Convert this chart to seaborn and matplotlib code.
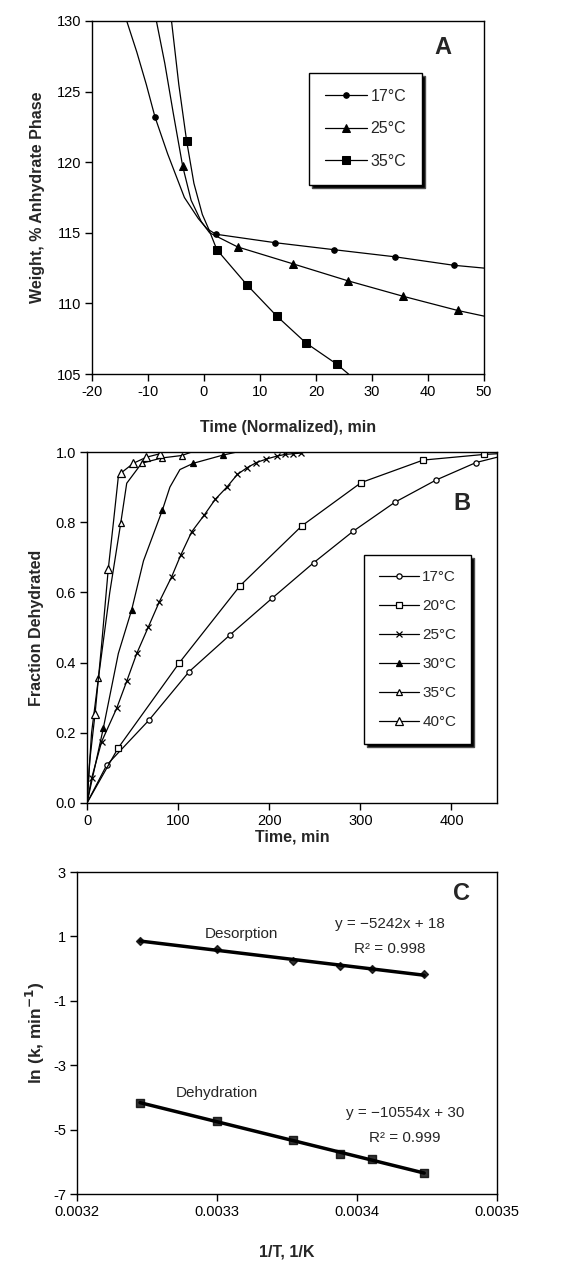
import numpy as np
import pandas as pd
import matplotlib
matplotlib.use("Agg")
import matplotlib.pyplot as plt
import seaborn as sns

sns.set_theme(style="ticks")
plt.rcParams['font.family'] = ['Liberation Sans', 'DejaVu Sans']
plt.rcParams['axes.edgecolor'] = 'black'
plt.rcParams['xtick.color'] = 'black'
plt.rcParams['ytick.color'] = 'black'
plt.rcParams['axes.unicode_minus'] = False

# ---------------- Panel A data ----------------
a_labels = ["17°C", "25°C", "35°C"]
a17_x = [-13.8, -12.0, -10.3, -8.75, -6.5, -3.5, -1.0, 0.5, 2.1, 12.7, 23.3, 34.1, 44.6, 50]
a17_y = [130, 127.8, 125.5, 123.2, 120.6, 117.5, 116.0, 115.3, 114.9, 114.3, 113.8, 113.3, 112.7, 112.5]
a17_mark = [3, 8, 9, 10, 11, 12]
a25_x = [-8.5, -7.0, -5.5, -3.8, -2.3, -0.5, 1.0, 6.0, 15.9, 25.7, 35.6, 45.3, 50]
a25_y = [130, 127.0, 123.5, 119.7, 117.3, 115.8, 115.0, 114.0, 112.8, 111.6, 110.5, 109.5, 109.1]
a25_mark = [3, 7, 8, 9, 10, 11]
a35_x = [-5.8, -4.5, -3.1, -1.8, -0.3, 0.8, 2.3, 7.7, 13.0, 18.2, 23.7, 25.8]
a35_y = [130, 125.5, 121.5, 118.5, 116.3, 115.3, 113.8, 111.3, 109.1, 107.2, 105.7, 105.0]
a35_mark = [2, 6, 7, 8, 9, 10]

# ---------------- Panel B data ----------------
b_labels = ["17°C", "20°C", "25°C", "30°C", "35°C", "40°C"]
b17_x = [0, 21.6, 68, 112, 157, 203, 249, 292, 338, 383, 427, 450]
b17_y = [0.0, 0.108, 0.236, 0.374, 0.479, 0.583, 0.685, 0.774, 0.857, 0.920, 0.970, 0.985]
b17_mark = list(range(1, 11))
b20_x = [0, 34, 101.5, 168, 236, 301, 369, 435.5, 450]
b20_y = [0.0, 0.156, 0.40, 0.619, 0.79, 0.913, 0.977, 0.993, 0.995]
b20_mark = list(range(1, 8))
b25_x = [0, 5, 16.1, 32.6, 43.6, 54.6, 67.4, 79.5, 93, 103, 115, 128.6, 140.7,
         153.5, 165, 175.5, 186, 197, 208, 217, 226, 235, 240]
b25_y = [0, 0.07, 0.175, 0.27, 0.347, 0.426, 0.502, 0.574, 0.645, 0.707, 0.773, 0.82, 0.865,
         0.90, 0.936, 0.955, 0.97, 0.98, 0.988, 0.993, 0.995, 0.997, 1.0]
b25_mark = list(range(1, 22))
b30_x = [0, 17.9, 34.4, 49, 62, 82.8, 91, 102, 116.8, 149, 164.5]
b30_y = [0, 0.213, 0.426, 0.55, 0.69, 0.835, 0.90, 0.95, 0.968, 0.991, 1.0]
b30_mark = [1, 3, 5, 8, 9]
b35_x = [0, 5, 12.5, 25, 37, 43.6, 60, 82, 104, 115]
b35_y = [0, 0.2, 0.355, 0.6, 0.797, 0.911, 0.968, 0.983, 0.99, 1.0]
b35_mark = [2, 4, 6, 7, 8]
b40_x = [0, 3, 8.8, 16, 23.4, 28.9, 34.4, 37.7, 51, 65, 80]
b40_y = [0, 0.12, 0.253, 0.45, 0.668, 0.797, 0.93, 0.941, 0.968, 0.985, 0.995]
b40_mark = [2, 4, 7, 8, 9, 10]

# ---------------- Panel C data ----------------
c_invT = [0.003245, 0.0033, 0.003354, 0.003388, 0.003411, 0.003448]
c_desorption = [0.86, 0.60, 0.24, 0.08, 0.0, -0.18]
c_dehydration = [-4.18, -4.73, -5.32, -5.76, -5.91, -6.36]

W, H = 567, 1263
fig = plt.figure(figsize=(W / 100, H / 100), dpi=100)

def box(l, t, r, b):
    return [l / W, (H - b) / H, (r - l) / W, (b - t) / H]

def ftext(x, y, s, **kw):
    fig.text(x / W, 1 - y / H, s, **kw)

axA = fig.add_axes(box(92, 21, 484, 374))
axB = fig.add_axes(box(87, 452, 497, 803))
axC = fig.add_axes(box(77, 872, 497, 1194))

def style(ax):
    for s in ax.spines.values():
        s.set_color('black')
        s.set_linewidth(1.0)
        s.set_visible(True)
    ax.tick_params(direction='out', length=5, width=1, labelsize=10.5,
                   top=False, right=False, pad=3)
    ax.grid(False)
    ax.set_facecolor('white')

# ---------- A ----------
specsA = [(a17_x, a17_y, a17_mark, 'o', 4, 'black'),
          (a25_x, a25_y, a25_mark, '^', 5.5, 'black'),
          (a35_x, a35_y, a35_mark, 's', 5.5, 'black')]
for (x, y, mk, m, ms, fc), lab in zip(specsA, a_labels):
    sns.lineplot(x=x, y=y, ax=axA, sort=False, estimator=None, color='black',
                 linewidth=0.9, marker=m, markersize=ms, markerfacecolor=fc,
                 markeredgecolor='black', markevery=mk, label=lab)
axA.set_xlim(-20, 50)
axA.set_ylim(105, 130)
axA.set_xticks(np.arange(-20, 51, 10))
axA.set_yticks(np.arange(105, 131, 5))
style(axA)
axA.set_xlabel("Time (Normalized), min", fontsize=11.5, fontweight='bold', labelpad=15)
axA.set_ylabel("Weight, % Anhydrate Phase", fontsize=11.5, fontweight='bold', labelpad=8)
ftext(443, 48, "A", fontsize=17, fontweight='bold', ha='center', va='center')
legA = axA.legend(loc='upper left', bbox_to_anchor=(0.554, 0.853), borderaxespad=0,
                  frameon=True, fancybox=False, framealpha=1, edgecolor='black',
                  shadow={'facecolor': 'black', 'alpha': 1}, fontsize=11.5,
                  labelspacing=1.1, handlelength=2.6, handletextpad=0.25,
                  borderpad=1.0)
legA.get_frame().set_linewidth(1.0)

# ---------- B ----------
specsB = [(b17_x, b17_y, b17_mark, 'o', 3.8, 'white'),
          (b20_x, b20_y, b20_mark, 's', 4.5, 'white'),
          (b25_x, b25_y, b25_mark, 'x', 4.5, 'black'),
          (b30_x, b30_y, b30_mark, '^', 5, 'black'),
          (b35_x, b35_y, b35_mark, '^', 4, 'white'),
          (b40_x, b40_y, b40_mark, '^', 5.5, 'white')]
for (x, y, mk, m, ms, fc), lab in zip(specsB, b_labels):
    sns.lineplot(x=x, y=y, ax=axB, sort=False, estimator=None, color='black',
                 linewidth=0.9, marker=m, markersize=ms, markerfacecolor=fc,
                 markeredgecolor='black', markeredgewidth=0.9, markevery=mk, label=lab)
axB.set_xlim(0, 450)
axB.set_ylim(0, 1.0)
axB.set_xticks(np.arange(0, 401, 100))
axB.set_yticks(np.arange(0, 1.01, 0.2))
axB.set_yticklabels([f"{v:.1f}" for v in np.arange(0, 1.01, 0.2)])
style(axB)
axB.set_xlabel("Time, min", fontsize=11.5, fontweight='bold', labelpad=1)
axB.set_ylabel("Fraction Dehydrated", fontsize=11.5, fontweight='bold', labelpad=8)
ftext(462, 503, "B", fontsize=17, fontweight='bold', ha='center', va='center')
legB = axB.legend(loc='upper left', bbox_to_anchor=(0.676, 0.707), borderaxespad=0,
                  frameon=True, fancybox=False, framealpha=1, edgecolor='black',
                  shadow={'facecolor': 'black', 'alpha': 1}, fontsize=11,
                  labelspacing=0.98, handlelength=2.6, handletextpad=0.2,
                  borderpad=1.0)
legB.get_frame().set_linewidth(1.0)

# ---------- C ----------
sns.regplot(x=c_invT, y=c_desorption, ax=axC, ci=None, truncate=True, marker='D',
            scatter_kws={'s': 16, 'color': 'black'},
            line_kws={'color': 'black', 'linewidth': 2.5})
sns.regplot(x=c_invT, y=c_dehydration, ax=axC, ci=None, truncate=True, marker='s',
            scatter_kws={'s': 28, 'color': 'black'},
            line_kws={'color': 'black', 'linewidth': 2.5})
axC.set_xlim(0.0032, 0.0035)
axC.set_ylim(-7, 3)
axC.set_xticks([0.0032, 0.0033, 0.0034, 0.0035])
axC.set_xticklabels(["0.0032", "0.0033", "0.0034", "0.0035"])
axC.set_yticks(np.arange(-7, 4, 2))
style(axC)
axC.set_xlabel("1/T, 1/K", fontsize=11.5, fontweight='bold', labelpad=18)
axC.set_ylabel("ln (k, min$^{\\mathbf{-1}}$)", fontsize=12.5, fontweight='bold', labelpad=4)
ftext(462, 893, "C", fontsize=17, fontweight='bold', ha='center', va='center')
fs = 11
axC.text(0.0033176, 1.07, "Desorption", fontsize=fs, ha='center', va='center')
axC.text(0.0034236, 1.39, "y = \u22125242x + 18", fontsize=fs, ha='center', va='center')
axC.text(0.0034236, 0.61, "R\u00b2 = 0.998", fontsize=fs, ha='center', va='center')
axC.text(0.00330, -3.87, "Dehydration", fontsize=fs, ha='center', va='center')
axC.text(0.0034343, -4.47, "y = \u221210554x + 30", fontsize=fs, ha='center', va='center')
axC.text(0.0034343, -5.27, "R\u00b2 = 0.999", fontsize=fs, ha='center', va='center')

fig.savefig("out.png", dpi=100, facecolor='white')
